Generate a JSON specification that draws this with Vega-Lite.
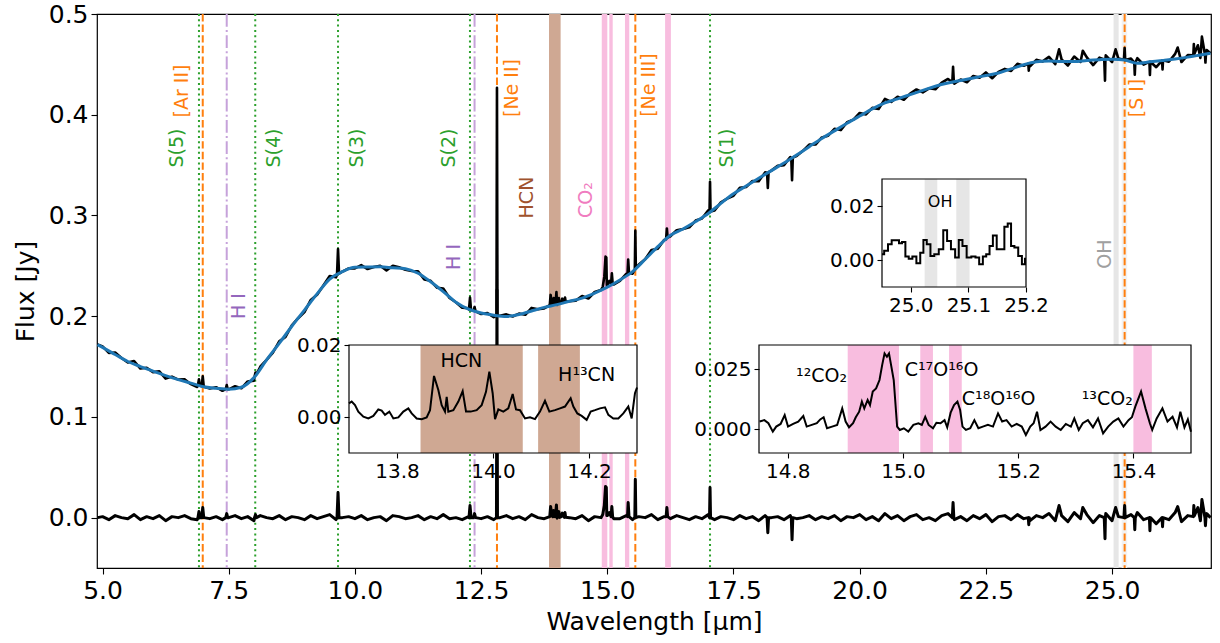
{
"$schema":"https://vega.github.io/schema/vega-lite/v6.json",
"width":1114,"height":554,
"autosize":{"type":"none"},
"padding":{"left":97,"top":14,"right":9,"bottom":75},
"config":{"view":{"stroke":"#000","strokeWidth":1.2},"font":"DejaVu Sans",
 "axis":{"grid":false,"domain":false,"tickColor":"#000","tickWidth":1.1,"labelColor":"#000","titleColor":"#000","titleFontWeight":"normal","labelFlush":false,"labelOverlap":false}},
"datasets":{
"bands":[{"lo":13.845,"hi":14.075,"m":"HCN"},{"lo":14.89,"hi":15.0,"m":"CO2"},{"lo":15.04,"hi":15.107,"m":"CO2"},{"lo":15.35,"hi":15.435,"m":"CO2"},{"lo":16.145,"hi":16.26,"m":"CO2"},{"lo":25.03,"hi":25.13,"m":"OH"},{"lo":25.19,"hi":25.3,"m":"OH2"}],
"h2":[{"w":6.91},{"w":8.025},{"w":9.665},{"w":12.279},{"w":17.035}],
"ion":[{"w":6.985},{"w":12.814},{"w":15.555},{"w":25.249}],
"hi":[{"w":7.46},{"w":12.37}],
"labels":[{"w":6.481,"f":0.367,"t":"S(5)","g":"H2"},{"w":6.568,"f":0.4236,"t":"[Ar II]","g":"ion"},{"w":8.397,"f":0.367,"t":"S(4)","g":"H2"},{"w":10.036,"f":0.367,"t":"S(3)","g":"H2"},{"w":11.859,"f":0.367,"t":"S(2)","g":"H2"},{"w":17.367,"f":0.367,"t":"S(1)","g":"H2"},{"w":7.71,"f":0.21,"t":"H I","g":"HI"},{"w":11.964,"f":0.2588,"t":"H I","g":"HI"},{"w":13.113,"f":0.4265,"t":"[Ne II]","g":"ion"},{"w":15.827,"f":0.4295,"t":"[Ne III]","g":"ion"},{"w":25.49,"f":0.4166,"t":"[S I]","g":"ion"},{"w":13.41,"f":0.3178,"t":"HCN","g":"HCN"},{"w":14.585,"f":0.3153,"t":"CO₂","g":"CO2"},{"w":24.862,"f":0.2617,"t":"OH","g":"OH"}],
"cont":[{"w":4.9,"f":0.1717},{"w":5.0,"f":0.169},{"w":5.25,"f":0.162},{"w":5.5,"f":0.155},{"w":5.75,"f":0.15},{"w":6.0,"f":0.1455},{"w":6.25,"f":0.141},{"w":6.5,"f":0.137},{"w":6.75,"f":0.1335},{"w":7.0,"f":0.13},{"w":7.25,"f":0.1285},{"w":7.5,"f":0.1274},{"w":7.75,"f":0.1294},{"w":8.0,"f":0.139},{"w":8.25,"f":0.1566},{"w":8.5,"f":0.173},{"w":8.75,"f":0.19},{"w":9.0,"f":0.206},{"w":9.25,"f":0.2222},{"w":9.5,"f":0.2369},{"w":9.75,"f":0.2442},{"w":10.0,"f":0.2485},{"w":10.25,"f":0.2488},{"w":10.5,"f":0.249},{"w":10.75,"f":0.248},{"w":11.0,"f":0.247},{"w":11.25,"f":0.2426},{"w":11.5,"f":0.2341},{"w":11.75,"f":0.2244},{"w":12.0,"f":0.2138},{"w":12.25,"f":0.2069},{"w":12.5,"f":0.2031},{"w":12.75,"f":0.201},{"w":13.0,"f":0.1998},{"w":13.25,"f":0.2016},{"w":13.5,"f":0.2052},{"w":13.75,"f":0.2087},{"w":14.0,"f":0.2115},{"w":14.25,"f":0.2148},{"w":14.5,"f":0.218},{"w":14.75,"f":0.223},{"w":15.0,"f":0.2289},{"w":15.25,"f":0.236},{"w":15.5,"f":0.2442},{"w":15.75,"f":0.2565},{"w":16.0,"f":0.269},{"w":16.25,"f":0.2803},{"w":16.5,"f":0.2865},{"w":16.75,"f":0.2939},{"w":17.0,"f":0.302},{"w":17.25,"f":0.312},{"w":17.5,"f":0.3215},{"w":17.75,"f":0.3293},{"w":18.0,"f":0.337},{"w":18.25,"f":0.3445},{"w":18.5,"f":0.352},{"w":18.75,"f":0.36},{"w":19.0,"f":0.3683},{"w":19.25,"f":0.3765},{"w":19.5,"f":0.384},{"w":19.75,"f":0.3915},{"w":20.0,"f":0.3987},{"w":20.25,"f":0.4058},{"w":20.5,"f":0.4117},{"w":20.75,"f":0.4158},{"w":21.0,"f":0.42},{"w":21.25,"f":0.4242},{"w":21.5,"f":0.4283},{"w":21.75,"f":0.4315},{"w":22.0,"f":0.434},{"w":22.25,"f":0.4365},{"w":22.5,"f":0.439},{"w":22.75,"f":0.4415},{"w":23.0,"f":0.4455},{"w":23.25,"f":0.4496},{"w":23.5,"f":0.4525},{"w":23.75,"f":0.4534},{"w":24.0,"f":0.4529},{"w":24.25,"f":0.4528},{"w":24.5,"f":0.4539},{"w":24.75,"f":0.4547},{"w":25.0,"f":0.4552},{"w":25.25,"f":0.4543},{"w":25.5,"f":0.4511},{"w":25.75,"f":0.4525},{"w":26.0,"f":0.4539},{"w":26.25,"f":0.4554},{"w":26.5,"f":0.4572},{"w":26.75,"f":0.4593},{"w":26.95,"f":0.461}],
"spec":[{"w":4.9,"f":0.172},{"w":5.0,"f":0.17},{"w":5.125,"f":0.1635},{"w":5.25,"f":0.164},{"w":5.375,"f":0.1585},{"w":5.5,"f":0.154},{"w":5.625,"f":0.1555},{"w":5.75,"f":0.148},{"w":5.875,"f":0.14875},{"w":6.0,"f":0.1445},{"w":6.125,"f":0.14525},{"w":6.25,"f":0.138},{"w":6.375,"f":0.14},{"w":6.5,"f":0.137},{"w":6.625,"f":0.13725},{"w":6.75,"f":0.1325},{"w":6.875,"f":0.12975},{"w":6.89,"f":0.1316},{"w":6.91,"f":0.1373},{"w":6.93,"f":0.1309},{"w":6.965,"f":0.1305},{"w":6.985,"f":0.1402},{"w":7.005,"f":0.13},{"w":7.125,"f":0.12825},{"w":7.25,"f":0.1295},{"w":7.375,"f":0.12595},{"w":7.44,"f":0.1277},{"w":7.46,"f":0.1316},{"w":7.48,"f":0.1275},{"w":7.5,"f":0.1274},{"w":7.625,"f":0.1304},{"w":7.75,"f":0.1284},{"w":7.875,"f":0.1352},{"w":8.0,"f":0.136},{"w":8.01,"f":0.1397},{"w":8.03,"f":0.1441},{"w":8.05,"f":0.1425},{"w":8.125,"f":0.1498},{"w":8.25,"f":0.1566},{"w":8.375,"f":0.1638},{"w":8.5,"f":0.175},{"w":8.625,"f":0.1795},{"w":8.75,"f":0.191},{"w":8.875,"f":0.198},{"w":9.0,"f":0.204},{"w":9.125,"f":0.2161},{"w":9.25,"f":0.2212},{"w":9.375,"f":0.23055},{"w":9.5,"f":0.2399},{"w":9.625,"f":0.23855},{"w":9.645,"f":0.2411},{"w":9.665,"f":0.2667},{"w":9.685,"f":0.2423},{"w":9.75,"f":0.2442},{"w":9.875,"f":0.24735},{"w":10.0,"f":0.2475},{"w":10.125,"f":0.25065},{"w":10.25,"f":0.2468},{"w":10.375,"f":0.2489},{"w":10.5,"f":0.25},{"w":10.625,"f":0.2455},{"w":10.75,"f":0.25},{"w":10.875,"f":0.2485},{"w":11.0,"f":0.246},{"w":11.125,"f":0.2448},{"w":11.25,"f":0.2446},{"w":11.375,"f":0.23635},{"w":11.5,"f":0.2351},{"w":11.625,"f":0.22825},{"w":11.75,"f":0.2274},{"w":11.875,"f":0.2181},{"w":12.0,"f":0.2138},{"w":12.125,"f":0.20835},{"w":12.25,"f":0.2079},{"w":12.26,"f":0.2067},{"w":12.28,"f":0.2184},{"w":12.3,"f":0.2061},{"w":12.35,"f":0.2054},{"w":12.37,"f":0.2091},{"w":12.39,"f":0.2048},{"w":12.5,"f":0.2021},{"w":12.625,"f":0.20305},{"w":12.75,"f":0.199},{"w":12.804,"f":0.2007},{"w":12.814,"f":0.4267},{"w":12.824,"f":0.2006},{"w":12.875,"f":0.2004},{"w":13.0,"f":0.2018},{"w":13.125,"f":0.1997},{"w":13.25,"f":0.2026},{"w":13.375,"f":0.2014},{"w":13.5,"f":0.2082},{"w":13.625,"f":0.20695},{"w":13.75,"f":0.2077},{"w":13.86,"f":0.2109},{"w":13.877,"f":0.2211},{"w":13.9,"f":0.2124},{"w":13.92,"f":0.2117},{"w":13.937,"f":0.2179},{"w":13.955,"f":0.2121},{"w":13.975,"f":0.2132},{"w":13.992,"f":0.224},{"w":14.005,"f":0.2111},{"w":14.041,"f":0.218},{"w":14.055,"f":0.2124},{"w":14.09,"f":0.2135},{"w":14.108,"f":0.2174},{"w":14.125,"f":0.21515},{"w":14.15,"f":0.214},{"w":14.162,"f":0.2186},{"w":14.175,"f":0.2143},{"w":14.25,"f":0.2148},{"w":14.375,"f":0.2154},{"w":14.5,"f":0.22},{"w":14.625,"f":0.2175},{"w":14.75,"f":0.224},{"w":14.875,"f":0.22595},{"w":14.91,"f":0.2292},{"w":14.94,"f":0.2392},{"w":14.965,"f":0.2591},{"w":14.98,"f":0.2584},{"w":14.99,"f":0.2307},{"w":15.0,"f":0.2309},{"w":15.04,"f":0.235},{"w":15.075,"f":0.2323},{"w":15.09,"f":0.2425},{"w":15.105,"f":0.2328},{"w":15.125,"f":0.23145},{"w":15.25,"f":0.235},{"w":15.375,"f":0.2421},{"w":15.4,"f":0.2419},{"w":15.413,"f":0.2563},{"w":15.43,"f":0.243},{"w":15.5,"f":0.2422},{"w":15.545,"f":0.2464},{"w":15.555,"f":0.2849},{"w":15.565,"f":0.2475},{"w":15.625,"f":0.25135},{"w":15.75,"f":0.2565},{"w":15.875,"f":0.26575},{"w":16.0,"f":0.267},{"w":16.125,"f":0.27565},{"w":16.165,"f":0.2763},{"w":16.18,"f":0.2871},{"w":16.195,"f":0.2779},{"w":16.25,"f":0.2793},{"w":16.375,"f":0.2854},{"w":16.5,"f":0.2865},{"w":16.625,"f":0.2882},{"w":16.75,"f":0.2949},{"w":16.875,"f":0.29695},{"w":17.0,"f":0.305},{"w":17.025,"f":0.303},{"w":17.035,"f":0.3334},{"w":17.045,"f":0.3038},{"w":17.125,"f":0.305},{"w":17.25,"f":0.313},{"w":17.375,"f":0.31675},{"w":17.5,"f":0.3195},{"w":17.625,"f":0.3274},{"w":17.75,"f":0.3283},{"w":17.875,"f":0.33415},{"w":18.0,"f":0.334},{"w":18.125,"f":0.34275},{"w":18.165,"f":0.3424},{"w":18.18,"f":0.3274},{"w":18.195,"f":0.343},{"w":18.25,"f":0.3445},{"w":18.375,"f":0.34925},{"w":18.5,"f":0.35},{"w":18.625,"f":0.358},{"w":18.645,"f":0.3566},{"w":18.66,"f":0.3351},{"w":18.675,"f":0.3576},{"w":18.75,"f":0.359},{"w":18.875,"f":0.36415},{"w":19.0,"f":0.3703},{"w":19.125,"f":0.3704},{"w":19.25,"f":0.3775},{"w":19.375,"f":0.37925},{"w":19.5,"f":0.386},{"w":19.625,"f":0.38475},{"w":19.75,"f":0.3925},{"w":19.875,"f":0.3951},{"w":20.0,"f":0.4017},{"w":20.125,"f":0.40025},{"w":20.25,"f":0.4068},{"w":20.375,"f":0.40575},{"w":20.5,"f":0.4157},{"w":20.625,"f":0.41275},{"w":20.75,"f":0.4178},{"w":20.875,"f":0.4149},{"w":21.0,"f":0.421},{"w":21.125,"f":0.4251},{"w":21.25,"f":0.4222},{"w":21.375,"f":0.42625},{"w":21.5,"f":0.4253},{"w":21.625,"f":0.4319},{"w":21.75,"f":0.4355},{"w":21.835,"f":0.4323},{"w":21.85,"f":0.4475},{"w":21.865,"f":0.4327},{"w":21.875,"f":0.43075},{"w":22.0,"f":0.435},{"w":22.125,"f":0.43225},{"w":22.25,"f":0.4385},{"w":22.375,"f":0.43675},{"w":22.5,"f":0.442},{"w":22.625,"f":0.43625},{"w":22.75,"f":0.4425},{"w":22.875,"f":0.4455},{"w":23.0,"f":0.4435},{"w":23.125,"f":0.45055},{"w":23.25,"f":0.4486},{"w":23.34,"f":0.4506},{"w":23.35,"f":0.4438},{"w":23.36,"f":0.4509},{"w":23.375,"f":0.44805},{"w":23.5,"f":0.4545},{"w":23.625,"f":0.45295},{"w":23.75,"f":0.4574},{"w":23.875,"f":0.45015},{"w":23.95,"f":0.465},{"w":24.0,"f":0.4549},{"w":24.125,"f":0.44885},{"w":24.25,"f":0.4578},{"w":24.375,"f":0.45235},{"w":24.42,"f":0.4635},{"w":24.5,"f":0.4569},{"w":24.625,"f":0.4493},{"w":24.75,"f":0.4567},{"w":24.845,"f":0.4548},{"w":24.86,"f":0.4339},{"w":24.868,"f":0.4549},{"w":24.875,"f":0.45895},{"w":25.0,"f":0.4522},{"w":25.07,"f":0.4649},{"w":25.125,"f":0.45575},{"w":25.235,"f":0.4545},{"w":25.249,"f":0.4663},{"w":25.26,"f":0.4542},{"w":25.375,"f":0.4557},{"w":25.44,"f":0.4518},{"w":25.45,"f":0.4397},{"w":25.46,"f":0.4515},{"w":25.5,"f":0.4561},{"w":25.625,"f":0.4498},{"w":25.74,"f":0.4525},{"w":25.75,"f":0.4395},{"w":25.76,"f":0.4526},{"w":25.875,"f":0.4472},{"w":25.99,"f":0.4538},{"w":26.0,"f":0.4449},{"w":26.01,"f":0.454},{"w":26.125,"f":0.45265},{"w":26.25,"f":0.4604},{"w":26.3,"f":0.4667},{"w":26.375,"f":0.4523},{"w":26.5,"f":0.4592},{"w":26.61,"f":0.4591},{"w":26.62,"f":0.4702},{"w":26.63,"f":0.4603},{"w":26.7,"f":0.4689},{"w":26.75,"f":0.4563},{"w":26.78,"f":0.4775},{"w":26.84,"f":0.4598},{"w":26.85,"f":0.4518},{"w":26.86,"f":0.4601},{"w":26.875,"f":0.46415},{"w":26.95,"f":0.461}],
"resid":[{"w":4.9,"f":0},{"w":5.0,"f":0.001},{"w":5.125,"f":-0.002},{"w":5.25,"f":0.002},{"w":5.375,"f":0},{"w":5.5,"f":-0.001},{"w":5.625,"f":0.003},{"w":5.75,"f":-0.002},{"w":5.875,"f":0.001},{"w":6.0,"f":-0.001},{"w":6.125,"f":0.002},{"w":6.25,"f":-0.003},{"w":6.375,"f":0.001},{"w":6.5,"f":0},{"w":6.625,"f":0.002},{"w":6.75,"f":-0.001},{"w":6.875,"f":-0.002},{"w":6.89,"f":0},{"w":6.91,"f":0.006},{"w":6.93,"f":0},{"w":6.965,"f":0},{"w":6.985,"f":0.01},{"w":7.005,"f":0},{"w":7.125,"f":-0.001},{"w":7.25,"f":0.001},{"w":7.375,"f":-0.002},{"w":7.44,"f":0},{"w":7.46,"f":0.004},{"w":7.48,"f":0},{"w":7.5,"f":0},{"w":7.625,"f":0.002},{"w":7.75,"f":-0.001},{"w":7.875,"f":0.001},{"w":8.0,"f":-0.003},{"w":8.01,"f":0},{"w":8.03,"f":0.003},{"w":8.05,"f":0},{"w":8.125,"f":0.002},{"w":8.25,"f":0},{"w":8.375,"f":-0.001},{"w":8.5,"f":0.002},{"w":8.625,"f":-0.002},{"w":8.75,"f":0.001},{"w":8.875,"f":0},{"w":9.0,"f":-0.002},{"w":9.125,"f":0.002},{"w":9.25,"f":-0.001},{"w":9.375,"f":0.001},{"w":9.5,"f":0.003},{"w":9.625,"f":-0.002},{"w":9.645,"f":0},{"w":9.665,"f":0.025},{"w":9.685,"f":0},{"w":9.75,"f":0},{"w":9.875,"f":0.001},{"w":10.0,"f":-0.001},{"w":10.125,"f":0.002},{"w":10.25,"f":-0.002},{"w":10.375,"f":0},{"w":10.5,"f":0.001},{"w":10.625,"f":-0.003},{"w":10.75,"f":0.002},{"w":10.875,"f":0.001},{"w":11.0,"f":-0.001},{"w":11.125,"f":0},{"w":11.25,"f":0.002},{"w":11.375,"f":-0.002},{"w":11.5,"f":0.001},{"w":11.625,"f":-0.001},{"w":11.75,"f":0.003},{"w":11.875,"f":-0.001},{"w":12.0,"f":0},{"w":12.125,"f":-0.002},{"w":12.25,"f":0.001},{"w":12.26,"f":0},{"w":12.28,"f":0.012},{"w":12.3,"f":0},{"w":12.35,"f":0},{"w":12.37,"f":0.004},{"w":12.39,"f":0},{"w":12.5,"f":-0.001},{"w":12.625,"f":0.001},{"w":12.75,"f":-0.002},{"w":12.804,"f":0},{"w":12.814,"f":0.226},{"w":12.824,"f":0},{"w":12.875,"f":0},{"w":13.0,"f":0.002},{"w":13.125,"f":-0.001},{"w":13.25,"f":0.001},{"w":13.375,"f":-0.002},{"w":13.5,"f":0.003},{"w":13.625,"f":0},{"w":13.75,"f":-0.001},{"w":13.86,"f":0.001},{"w":13.877,"f":0.011},{"w":13.9,"f":0.002},{"w":13.92,"f":0.001},{"w":13.937,"f":0.007},{"w":13.955,"f":0.001},{"w":13.975,"f":0.002},{"w":13.992,"f":0.0126},{"w":14.005,"f":-0.0005},{"w":14.041,"f":0.006},{"w":14.055,"f":0.0002},{"w":14.09,"f":0.001},{"w":14.108,"f":0.0045},{"w":14.125,"f":0.002},{"w":14.15,"f":0.0003},{"w":14.162,"f":0.005},{"w":14.175,"f":0.0003},{"w":14.25,"f":0},{"w":14.375,"f":-0.001},{"w":14.5,"f":0.002},{"w":14.625,"f":-0.003},{"w":14.75,"f":0.001},{"w":14.875,"f":0},{"w":14.91,"f":0.003},{"w":14.94,"f":0.012},{"w":14.965,"f":0.031},{"w":14.98,"f":0.03},{"w":14.99,"f":0.002},{"w":15.0,"f":0.002},{"w":15.04,"f":0.005},{"w":15.075,"f":0.001},{"w":15.09,"f":0.011},{"w":15.105,"f":0.001},{"w":15.125,"f":-0.001},{"w":15.25,"f":-0.001},{"w":15.375,"f":0.002},{"w":15.4,"f":0.001},{"w":15.413,"f":0.015},{"w":15.43,"f":0.001},{"w":15.5,"f":-0.002},{"w":15.545,"f":0},{"w":15.555,"f":0.038},{"w":15.565,"f":0},{"w":15.625,"f":0.001},{"w":15.75,"f":0},{"w":15.875,"f":0.003},{"w":16.0,"f":-0.002},{"w":16.125,"f":0.001},{"w":16.165,"f":0.001},{"w":16.18,"f":0.01},{"w":16.195,"f":0.001},{"w":16.25,"f":-0.001},{"w":16.375,"f":0.002},{"w":16.5,"f":0},{"w":16.625,"f":-0.002},{"w":16.75,"f":0.001},{"w":16.875,"f":-0.001},{"w":17.0,"f":0.003},{"w":17.025,"f":0},{"w":17.035,"f":0.03},{"w":17.045,"f":0},{"w":17.125,"f":-0.002},{"w":17.25,"f":0.001},{"w":17.375,"f":0},{"w":17.5,"f":-0.002},{"w":17.625,"f":0.002},{"w":17.75,"f":-0.001},{"w":17.875,"f":0.001},{"w":18.0,"f":-0.003},{"w":18.125,"f":0.002},{"w":18.165,"f":0},{"w":18.18,"f":-0.015},{"w":18.195,"f":0},{"w":18.25,"f":0},{"w":18.375,"f":0.001},{"w":18.5,"f":-0.002},{"w":18.625,"f":0.002},{"w":18.645,"f":0},{"w":18.66,"f":-0.022},{"w":18.675,"f":0},{"w":18.75,"f":-0.001},{"w":18.875,"f":0},{"w":19.0,"f":0.002},{"w":19.125,"f":-0.002},{"w":19.25,"f":0.001},{"w":19.375,"f":-0.001},{"w":19.5,"f":0.002},{"w":19.625,"f":-0.003},{"w":19.75,"f":0.001},{"w":19.875,"f":0},{"w":20.0,"f":0.003},{"w":20.125,"f":-0.002},{"w":20.25,"f":0.001},{"w":20.375,"f":-0.003},{"w":20.5,"f":0.004},{"w":20.625,"f":-0.001},{"w":20.75,"f":0.002},{"w":20.875,"f":-0.003},{"w":21.0,"f":0.001},{"w":21.125,"f":0.003},{"w":21.25,"f":-0.002},{"w":21.375,"f":0},{"w":21.5,"f":-0.003},{"w":21.625,"f":0.002},{"w":21.75,"f":0.004},{"w":21.835,"f":0},{"w":21.85,"f":0.015},{"w":21.865,"f":0},{"w":21.875,"f":-0.002},{"w":22.0,"f":0.001},{"w":22.125,"f":-0.003},{"w":22.25,"f":0.002},{"w":22.375,"f":-0.001},{"w":22.5,"f":0.003},{"w":22.625,"f":-0.004},{"w":22.75,"f":0.001},{"w":22.875,"f":0.002},{"w":23.0,"f":-0.002},{"w":23.125,"f":0.003},{"w":23.25,"f":-0.001},{"w":23.34,"f":0},{"w":23.35,"f":-0.007},{"w":23.36,"f":0},{"w":23.375,"f":-0.003},{"w":23.5,"f":0.002},{"w":23.625,"f":0},{"w":23.75,"f":0.004},{"w":23.875,"f":-0.003},{"w":23.95,"f":0.012},{"w":24.0,"f":0.002},{"w":24.125,"f":-0.004},{"w":24.25,"f":0.005},{"w":24.375,"f":-0.001},{"w":24.42,"f":0.01},{"w":24.5,"f":0.003},{"w":24.625,"f":-0.005},{"w":24.75,"f":0.002},{"w":24.845,"f":0},{"w":24.86,"f":-0.021},{"w":24.868,"f":0},{"w":24.875,"f":0.004},{"w":25.0,"f":-0.003},{"w":25.07,"f":0.01},{"w":25.125,"f":0.001},{"w":25.235,"f":0},{"w":25.249,"f":0.012},{"w":25.26,"f":0},{"w":25.375,"f":0.003},{"w":25.44,"f":0},{"w":25.45,"f":-0.012},{"w":25.46,"f":0},{"w":25.5,"f":0.005},{"w":25.625,"f":-0.002},{"w":25.74,"f":0},{"w":25.75,"f":-0.013},{"w":25.76,"f":0},{"w":25.875,"f":-0.006},{"w":25.99,"f":0},{"w":26.0,"f":-0.009},{"w":26.01,"f":0},{"w":26.125,"f":-0.002},{"w":26.25,"f":0.005},{"w":26.3,"f":0.011},{"w":26.375,"f":-0.004},{"w":26.5,"f":0.002},{"w":26.61,"f":0.001},{"w":26.62,"f":0.012},{"w":26.63,"f":0.002},{"w":26.7,"f":0.01},{"w":26.75,"f":-0.003},{"w":26.78,"f":0.018},{"w":26.84,"f":0},{"w":26.85,"f":-0.008},{"w":26.86,"f":0},{"w":26.875,"f":0.004},{"w":26.95,"f":0}],
"in1":[{"w":13.7,"f":0.0038},{"w":13.7056,"f":0.0043},{"w":13.7125,"f":0.0033},{"w":13.7194,"f":0.0015},{"w":13.7299,"f":0.0001},{"w":13.7403,"f":-0.0004},{"w":13.7507,"f":0.0003},{"w":13.7611,"f":0.0021},{"w":13.7681,"f":0.0018},{"w":13.775,"f":0.0006},{"w":13.784,"f":0.0015},{"w":13.7924,"f":-0.0004},{"w":13.8028,"f":-0.0001},{"w":13.8132,"f":0.0015},{"w":13.8236,"f":0.0024},{"w":13.8306,"f":0.001},{"w":13.841,"f":-0.0004},{"w":13.8514,"f":-0.0006},{"w":13.8618,"f":-0.0001},{"w":13.8688,"f":0.0019},{"w":13.8771,"f":0.0114},{"w":13.8861,"f":0.0075},{"w":13.8931,"f":0.0033},{"w":13.9,"f":0.0015},{"w":13.9035,"f":0.0056},{"w":13.9069,"f":0.0015},{"w":13.9174,"f":0.0019},{"w":13.9278,"f":0.0043},{"w":13.9368,"f":0.0072},{"w":13.9438,"f":0.0015},{"w":13.9535,"f":0.0015},{"w":13.966,"f":0.0019},{"w":13.9764,"f":0.0033},{"w":13.9854,"f":0.007},{"w":13.9924,"f":0.0126},{"w":13.9993,"f":0.0066},{"w":14.0042,"f":-0.0006},{"w":14.0111,"f":0.0021},{"w":14.0215,"f":0.0015},{"w":14.0319,"f":0.0024},{"w":14.041,"f":0.0064},{"w":14.0479,"f":0.0021},{"w":14.0563,"f":0.0019},{"w":14.0667,"f":-0.0004},{"w":14.0771,"f":-0.0001},{"w":14.0875,"f":-0.0006},{"w":14.0979,"f":0.0015},{"w":14.1083,"f":0.0045},{"w":14.1174,"f":0.0015},{"w":14.1292,"f":0.0019},{"w":14.1396,"f":0.0024},{"w":14.15,"f":0.0029},{"w":14.1618,"f":0.0052},{"w":14.1674,"f":0.0029},{"w":14.1757,"f":0.001},{"w":14.1847,"f":0.0003},{"w":14.1951,"f":-0.0008},{"w":14.2035,"f":0.0015},{"w":14.2125,"f":0.0019},{"w":14.2229,"f":0.0024},{"w":14.2333,"f":0.0027},{"w":14.2403,"f":0.0006},{"w":14.2507,"f":-0.0004},{"w":14.2611,"f":-0.0004},{"w":14.2715,"f":0.001},{"w":14.2819,"f":0.0029},{"w":14.2889,"f":-0.0004},{"w":14.2958,"f":0.0066},{"w":14.3,"f":0.0082}],
"in2":[{"w":14.751,"f":0.0031},{"w":14.7593,"f":0.0037},{"w":14.7663,"f":0.0024},{"w":14.774,"f":-0.0011},{"w":14.7799,"f":0.001},{"w":14.7875,"f":0.0021},{"w":14.7946,"f":0.0058},{"w":14.8004,"f":0.001},{"w":14.8093,"f":0.0021},{"w":14.8181,"f":0.0031},{"w":14.8269,"f":0.0054},{"w":14.8328,"f":0.001},{"w":14.8416,"f":0.0017},{"w":14.8504,"f":0.0024},{"w":14.8563,"f":0.004},{"w":14.8622,"f":0.0049},{"w":14.8681,"f":0.0003},{"w":14.8769,"f":0.001},{"w":14.8857,"f":0.0017},{"w":14.8945,"f":0.0086},{"w":14.9004,"f":0.0031},{"w":14.9063,"f":0.0007},{"w":14.9133,"f":0.0024},{"w":14.918,"f":0.0049},{"w":14.9239,"f":0.0072},{"w":14.9286,"f":0.0114},{"w":14.9328,"f":0.0086},{"w":14.9386,"f":0.0121},{"w":14.9427,"f":0.01},{"w":14.9475,"f":0.0156},{"w":14.9533,"f":0.0169},{"w":14.9592,"f":0.0204},{"w":14.9639,"f":0.0267},{"w":14.968,"f":0.0315},{"w":14.9721,"f":0.0301},{"w":14.9757,"f":0.0315},{"w":14.9798,"f":0.026},{"w":14.9839,"f":0.0204},{"w":14.9898,"f":0.001},{"w":14.9945,"f":-0.0004},{"w":15.0015,"f":0.0003},{"w":15.0092,"f":-0.0011},{"w":15.018,"f":0.0017},{"w":15.0268,"f":0.0024},{"w":15.0327,"f":0.0017},{"w":15.0386,"f":0.0051},{"w":15.0445,"f":0.0017},{"w":15.0521,"f":0.0003},{"w":15.058,"f":0.0026},{"w":15.0651,"f":0.0024},{"w":15.0721,"f":0.0037},{"w":15.0768,"f":0.0007},{"w":15.0827,"f":0.0068},{"w":15.0886,"f":0.01},{"w":15.0945,"f":0.0114},{"w":15.0992,"f":0.0079},{"w":15.1033,"f":0.001},{"w":15.1092,"f":-0.0004},{"w":15.1168,"f":0.0003},{"w":15.1239,"f":0.0037},{"w":15.1309,"f":0.0003},{"w":15.1386,"f":0.001},{"w":15.1474,"f":0.0017},{"w":15.1562,"f":0.001},{"w":15.165,"f":0.0065},{"w":15.1721,"f":0.0031},{"w":15.1797,"f":0.0037},{"w":15.1886,"f":0.001},{"w":15.1974,"f":0.0021},{"w":15.2062,"f":0.001},{"w":15.2133,"f":-0.0025},{"w":15.2209,"f":0.001},{"w":15.2268,"f":0.0024},{"w":15.2327,"f":0.0072},{"w":15.2386,"f":-0.0004},{"w":15.2474,"f":0.001},{"w":15.2562,"f":0.0031},{"w":15.2651,"f":0.001},{"w":15.2739,"f":-0.0004},{"w":15.2827,"f":0.0021},{"w":15.2915,"f":0.001},{"w":15.2974,"f":0.0044},{"w":15.3051,"f":-0.0004},{"w":15.3121,"f":0.0024},{"w":15.321,"f":0.0037},{"w":15.3298,"f":0.0007},{"w":15.3386,"f":0.0044},{"w":15.3474,"f":-0.0018},{"w":15.3562,"f":0.001},{"w":15.3651,"f":0.0031},{"w":15.3739,"f":0.0044},{"w":15.3827,"f":0.001},{"w":15.3915,"f":0.0037},{"w":15.3974,"f":0.0049},{"w":15.4033,"f":0.0093},{"w":15.4133,"f":0.0156},{"w":15.421,"f":0.0086},{"w":15.4286,"f":0.0024},{"w":15.4327,"f":-0.0004},{"w":15.4404,"f":0.0044},{"w":15.4504,"f":0.0086},{"w":15.4592,"f":0.0031},{"w":15.468,"f":0.0051},{"w":15.4757,"f":0.0007},{"w":15.4815,"f":0.0072},{"w":15.4886,"f":0.0007},{"w":15.4945,"f":0.004},{"w":15.5,"f":-0.0011}],
"in3":[{"w":24.95,"f":0.0021},{"w":24.9575,"f":0.0034},{"w":24.9633,"f":0.0058},{"w":24.9703,"f":0.0073},{"w":24.9772,"f":0.0073},{"w":24.9819,"f":0.0062},{"w":24.9877,"f":0.0067},{"w":24.9935,"f":0.0013},{"w":24.9993,"f":0.0005},{"w":25.0062,"f":0.0013},{"w":25.0132,"f":-0.0012},{"w":25.0196,"f":0.0027},{"w":25.0242,"f":0.0074},{"w":25.0312,"f":0.0058},{"w":25.037,"f":0.0015},{"w":25.0445,"f":0.0021},{"w":25.0526,"f":0.004},{"w":25.0601,"f":0.011},{"w":25.0659,"f":0.007},{"w":25.0735,"f":0.004},{"w":25.0804,"f":0.0009},{"w":25.0862,"f":0.0074},{"w":25.0932,"f":0.0052},{"w":25.1007,"f":0.0009},{"w":25.1094,"f":0.0013},{"w":25.1152,"f":0.0009},{"w":25.1222,"f":-0.0016},{"w":25.128,"f":0.0013},{"w":25.1338,"f":0.0021},{"w":25.1396,"f":0.0052},{"w":25.1454,"f":0.0091},{"w":25.1529,"f":0.004},{"w":25.1604,"f":0.004},{"w":25.1645,"f":0.0123},{"w":25.172,"f":0.0135},{"w":25.1761,"f":0.0052},{"w":25.1836,"f":0.0046},{"w":25.1894,"f":0.0015},{"w":25.1964,"f":-0.0016},{"w":25.2,"f":0.0005}]
},
"layer":[
{"layer":[
 {"data":{"name":"bands"},"transform":[{"filter":"datum.m=='HCN'"}],"mark":{"type":"rect","color":"#cfa893"},
  "encoding":{"x":{"field":"lo","type":"quantitative","scale":{"domain":[4.89,26.96],"nice":false,"zero":false},
   "axis":{"orient":"bottom","values":[5,7.5,10,12.5,15,17.5,20,22.5,25],"format":".1f","labelFontSize":25,"tickSize":6,"labelPadding":4,"title":"Wavelength [μm]","titleFontSize":25,"titlePadding":6}},"x2":{"field":"hi"}}},
 {"data":{"name":"bands"},"transform":[{"filter":"datum.m=='CO2'"}],"mark":{"type":"rect","color":"#f8bddf"},"encoding":{"x":{"field":"lo","type":"quantitative"},"x2":{"field":"hi"}}},
 {"data":{"name":"bands"},"transform":[{"filter":"datum.m=='OH'"}],"mark":{"type":"rect","color":"#e6e6e6"},"encoding":{"x":{"field":"lo","type":"quantitative"},"x2":{"field":"hi"}}},
 {"data":{"name":"bands"},"transform":[{"filter":"datum.m=='OH2'"}],"mark":{"type":"rect","color":"#f2f2f2"},"encoding":{"x":{"field":"lo","type":"quantitative"},"x2":{"field":"hi"}}},
 {"data":{"name":"h2"},"mark":{"type":"rule","color":"#2ca02c","strokeWidth":2,"strokeDash":[2,3.3]},"encoding":{"x":{"field":"w","type":"quantitative"}}},
 {"data":{"name":"hi"},"mark":{"type":"rule","color":"#c6a2da","strokeWidth":2,"strokeDash":[12.8,3.2,2,3.2]},"encoding":{"x":{"field":"w","type":"quantitative"}}},
 {"data":{"name":"ion"},"mark":{"type":"rule","color":"#ff7f0e","strokeWidth":2,"strokeDash":[7.4,3.2]},"encoding":{"x":{"field":"w","type":"quantitative"}}},
 {"data":{"name":"resid"},"mark":{"type":"line","color":"#000","strokeWidth":3,"strokeJoin":"round"},
  "encoding":{"x":{"field":"w","type":"quantitative"},"y":{"field":"f","type":"quantitative","scale":{"domain":[-0.05,0.5],"nice":false,"zero":false},
   "axis":{"orient":"left","values":[0,0.1,0.2,0.3,0.4,0.5],"format":".1f","labelFontSize":25,"tickSize":6,"labelPadding":3,"title":"Flux [Jy]","titleFontSize":25,"titlePadding":10}}}},
 {"data":{"name":"spec"},"mark":{"type":"line","color":"#000","strokeWidth":2.6,"strokeJoin":"round"},"encoding":{"x":{"field":"w","type":"quantitative"},"y":{"field":"f","type":"quantitative"}}},
 {"data":{"name":"cont"},"mark":{"type":"line","color":"#1f77b4","strokeWidth":3,"interpolate":"monotone"},"encoding":{"x":{"field":"w","type":"quantitative"},"y":{"field":"f","type":"quantitative"}}},
 {"data":{"name":"labels"},"mark":{"type":"text","angle":270,"align":"center","baseline":"middle","fontSize":19},
  "encoding":{"x":{"field":"w","type":"quantitative"},"y":{"field":"f","type":"quantitative"},"text":{"field":"t"},
   "color":{"field":"g","type":"nominal","scale":{"domain":["H2","ion","HI","HCN","CO2","OH"],"range":["#2ca02c","#ff7f0e","#9467bd","#a0522d","#f07cc0","#a0a0a0"]},"legend":null}}}
]},
{"layer":[
 {"data":{"values":[{}]},"mark":{"type":"rect","fill":"white"},"encoding":{"x":{"datum":13.7,"type":"quantitative"},"x2":{"datum":14.3},"y":{"datum":-0.01,"type":"quantitative"},"y2":{"datum":0.02}}},
 {"data":{"values":[{"lo":13.849,"hi":14.062},{"lo":14.094,"hi":14.181}]},"mark":{"type":"rect","color":"#cfa893"},"encoding":{"x":{"field":"lo","type":"quantitative"},"x2":{"field":"hi"},"y":{"datum":-0.01,"type":"quantitative"},"y2":{"datum":0.02}}},
 {"data":{"name":"in1"},"mark":{"type":"line","color":"#000","strokeWidth":2},
  "encoding":{"x":{"field":"w","type":"quantitative","scale":{"domain":[13.7,14.3],"range":[252,540],"nice":false,"zero":false},
    "axis":{"orient":"bottom","offset":-115,"values":[13.8,14.0,14.2],"format":".1f","labelFontSize":20,"tickSize":5,"labelPadding":3,"title":null,"zindex":1}},
   "y":{"field":"f","type":"quantitative","scale":{"domain":[-0.01,0.02],"range":[439,331],"nice":false,"zero":false},
    "axis":{"orient":"left","offset":-252,"values":[0,0.02],"format":".2f","labelFontSize":20,"tickSize":5,"labelPadding":3,"title":null,"zindex":1}}}},
 {"data":{"values":[{"w":13.934,"f":0.0156,"t":"HCN"},{"w":14.195,"f":0.0117,"t":"H¹³CN"}]},"mark":{"type":"text","fontSize":19,"color":"#000","align":"center","baseline":"middle"},"encoding":{"x":{"field":"w","type":"quantitative"},"y":{"field":"f","type":"quantitative"},"text":{"field":"t"}}},
 {"data":{"values":[{}]},"mark":{"type":"rect","fill":null,"stroke":"#000","strokeWidth":1.2},"encoding":{"x":{"datum":13.7,"type":"quantitative"},"x2":{"datum":14.3},"y":{"datum":-0.01,"type":"quantitative"},"y2":{"datum":0.02}}}
]},
{"layer":[
 {"data":{"values":[{}]},"mark":{"type":"rect","fill":"white"},"encoding":{"x":{"datum":14.75,"type":"quantitative"},"x2":{"datum":15.5},"y":{"datum":-0.01,"type":"quantitative"},"y2":{"datum":0.035}}},
 {"data":{"values":[{"lo":14.904,"hi":14.993},{"lo":15.03,"hi":15.052},{"lo":15.08,"hi":15.102},{"lo":15.4,"hi":15.432}]},"mark":{"type":"rect","color":"#f8bddf"},"encoding":{"x":{"field":"lo","type":"quantitative"},"x2":{"field":"hi"},"y":{"datum":-0.01,"type":"quantitative"},"y2":{"datum":0.035}}},
 {"data":{"name":"in2"},"mark":{"type":"line","color":"#000","strokeWidth":2},
  "encoding":{"x":{"field":"w","type":"quantitative","scale":{"domain":[14.75,15.5],"range":[662,1094],"nice":false,"zero":false},
    "axis":{"orient":"bottom","offset":-115,"values":[14.8,15.0,15.2,15.4],"format":".1f","labelFontSize":20,"tickSize":5,"labelPadding":3,"title":null,"zindex":1}},
   "y":{"field":"f","type":"quantitative","scale":{"domain":[-0.01,0.035],"range":[439,331],"nice":false,"zero":false},
    "axis":{"orient":"left","offset":-662,"values":[0,0.025],"format":".3f","labelFontSize":20,"tickSize":5,"labelPadding":3,"title":null,"zindex":1}}}},
 {"data":{"values":[{"w":14.903,"f":0.022,"t":"¹²CO₂"},{"w":15.399,"f":0.0124,"t":"¹³CO₂"}]},"mark":{"type":"text","fontSize":19,"color":"#000","align":"right","baseline":"middle"},"encoding":{"x":{"field":"w","type":"quantitative"},"y":{"field":"f","type":"quantitative"},"text":{"field":"t"}}},
 {"data":{"values":[{"w":15.003,"f":0.0246,"t":"C¹⁷O¹⁶O"},{"w":15.102,"f":0.0124,"t":"C¹⁸O¹⁶O"}]},"mark":{"type":"text","fontSize":19,"color":"#000","align":"left","baseline":"middle"},"encoding":{"x":{"field":"w","type":"quantitative"},"y":{"field":"f","type":"quantitative"},"text":{"field":"t"}}},
 {"data":{"values":[{}]},"mark":{"type":"rect","fill":null,"stroke":"#000","strokeWidth":1.2},"encoding":{"x":{"datum":14.75,"type":"quantitative"},"x2":{"datum":15.5},"y":{"datum":-0.01,"type":"quantitative"},"y2":{"datum":0.035}}}
]},
{"layer":[
 {"data":{"values":[{}]},"mark":{"type":"rect","fill":"white"},"encoding":{"x":{"datum":24.95,"type":"quantitative"},"x2":{"datum":25.2},"y":{"datum":-0.01,"type":"quantitative"},"y2":{"datum":0.03}}},
 {"data":{"values":[{"lo":25.024,"hi":25.046},{"lo":25.079,"hi":25.102}]},"mark":{"type":"rect","color":"#e6e6e6"},"encoding":{"x":{"field":"lo","type":"quantitative"},"x2":{"field":"hi"},"y":{"datum":-0.01,"type":"quantitative"},"y2":{"datum":0.03}}},
 {"data":{"name":"in3"},"mark":{"type":"line","color":"#000","strokeWidth":2,"interpolate":"step"},
  "encoding":{"x":{"field":"w","type":"quantitative","scale":{"domain":[24.95,25.2],"range":[785,929],"nice":false,"zero":false},
    "axis":{"orient":"bottom","offset":-281,"values":[25.0,25.1,25.2],"format":".1f","labelFontSize":20,"tickSize":5,"labelPadding":3,"title":null,"zindex":1}},
   "y":{"field":"f","type":"quantitative","scale":{"domain":[-0.01,0.03],"range":[273,165],"nice":false,"zero":false},
    "axis":{"orient":"left","offset":-785,"values":[0,0.02],"format":".2f","labelFontSize":20,"tickSize":5,"labelPadding":3,"title":null,"zindex":1}}}},
 {"data":{"values":[{"w":25.051,"f":0.0215,"t":"OH"}]},"mark":{"type":"text","fontSize":16,"color":"#000","align":"center","baseline":"middle"},"encoding":{"x":{"field":"w","type":"quantitative"},"y":{"field":"f","type":"quantitative"},"text":{"field":"t"}}},
 {"data":{"values":[{}]},"mark":{"type":"rect","fill":null,"stroke":"#000","strokeWidth":1.2},"encoding":{"x":{"datum":24.95,"type":"quantitative"},"x2":{"datum":25.2},"y":{"datum":-0.01,"type":"quantitative"},"y2":{"datum":0.03}}}
]}
],
"resolve":{"scale":{"x":"independent","y":"independent"},"axis":{"x":"independent","y":"independent"}}
}
